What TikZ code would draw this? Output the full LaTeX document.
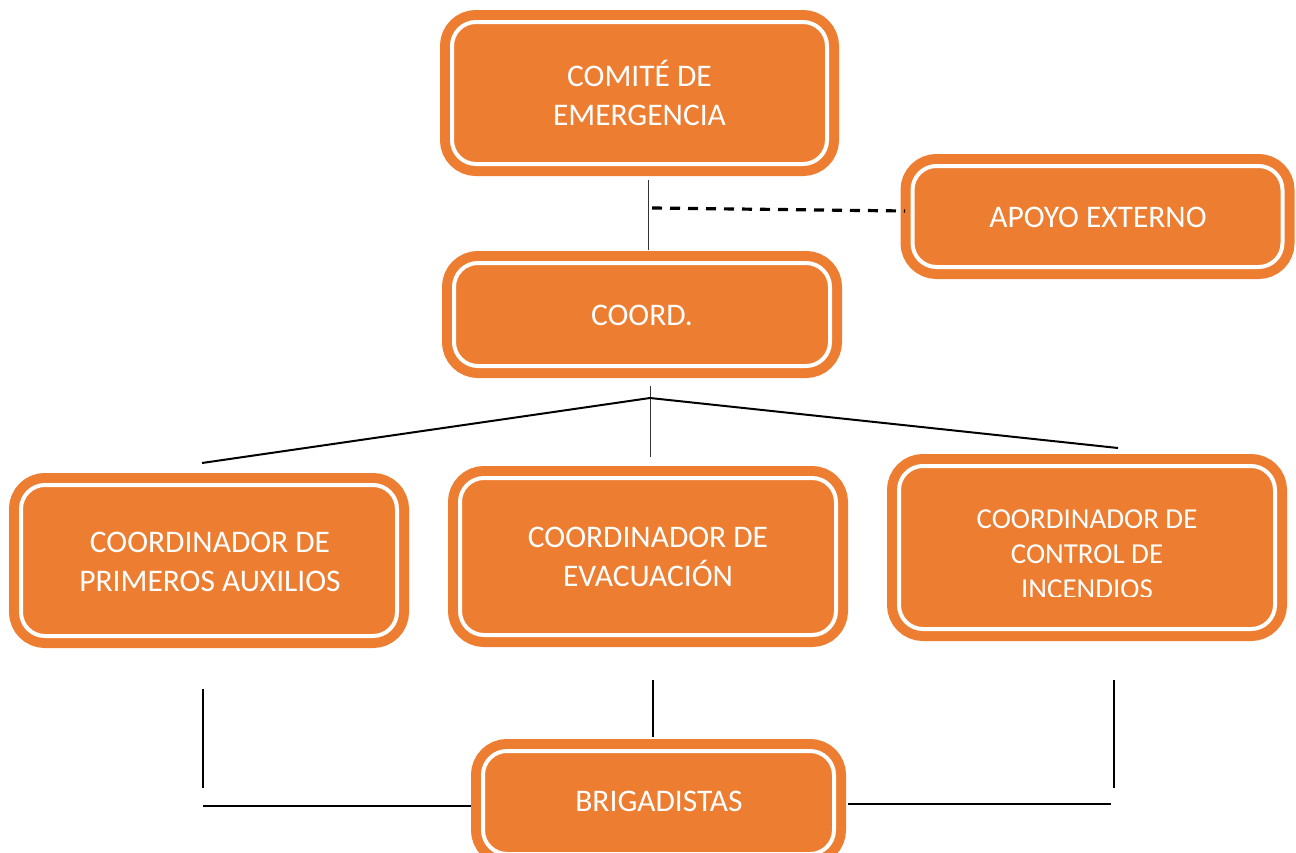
\documentclass[tikz,border=0pt]{standalone}
\usepackage{fontspec}
\setmainfont{Carlito}
\definecolor{acc}{HTML}{ED7D31}
\tikzset{
  orgbox/.style={rectangle, rounded corners=18pt, fill=acc, draw=acc,
    line width=7.5pt, double=white, double distance=3pt, inner sep=0pt},
  lbl/.style={text=white, align=center, inner sep=0pt,
    font=\fontsize{23.6pt}{28.9pt}\selectfont},
  lblsmall/.style={text=white, align=center, inner sep=0pt,
    font=\fontsize{21.7pt}{26.25pt}\selectfont},
  thinln/.style={draw=black!80, line width=0.75pt},
  ln/.style={draw=black, line width=1.5pt},
  dashln/.style={draw=black, line width=2.4pt, dash pattern=on 7.5pt off 6pt}
}
\begin{document}
\begin{tikzpicture}[x=0.75pt, y=-0.75pt]
\clip (0,0) rectangle (1296,853);
\fill[white] (0,0) rectangle (1296,853);

% boxes
\node[orgbox, minimum width=281.25pt, minimum height=106.5pt] (comite) at (639.5,93) {};
\node[orgbox, minimum width=277.5pt, minimum height=75.75pt] (apoyo) at (1097.5,216.5) {};
\node[orgbox, minimum width=282pt, minimum height=77.25pt] (coord) at (642,314.5) {};
\node[orgbox, minimum width=282pt, minimum height=113.25pt] (primeros) at (209,560.5) {};
\node[orgbox, minimum width=282pt, minimum height=117.75pt] (evac) at (648,556.5) {};
\node[orgbox, minimum width=282pt, minimum height=122.25pt] (incend) at (1087,547.5) {};
\node[orgbox, minimum width=263.25pt, minimum height=77.25pt] (brig) at (658.5,802.5) {};

% texts
\node[lbl] (comiteT) at (639.5,93) {COMITÉ DE\\EMERGENCIA};
\node[lbl] (apoyoT) at (1098,217) {APOYO EXTERNO};
\node[lbl] (coordT) at (642,315) {COORD.};
\node[lbl] (primerosT) at (210,562) {COORDINADOR DE\\PRIMEROS AUXILIOS};
\node[lbl] (evacT) at (648,557) {COORDINADOR DE\\EVACUACIÓN};
\begin{scope}
\clip (887,454) rectangle (1287,596);
\node[lblsmall] (incendT) at (1087,554) {COORDINADOR DE\\CONTROL DE\\INCENDIOS};
\end{scope}
\node[lbl] (brigT) at (659,801) {BRIGADISTAS};

% connector end points
\coordinate (c1a) at (648,180);
\coordinate (c1b) at (648,250);
\coordinate (d1a) at (652,208);
\coordinate (d1b) at (905,211);
\coordinate (c2a) at (650,386);
\coordinate (c2b) at (650,457);
\coordinate (apex) at (650,398);
\coordinate (fl) at (202,463);
\coordinate (fr) at (1118,448);
\coordinate (vl1) at (203,689);
\coordinate (vl2) at (203,788);
\coordinate (hl1) at (203,806);
\coordinate (hl2) at (471,806);
\coordinate (vm1) at (653,680);
\coordinate (vm2) at (653,737);
\coordinate (hr1) at (848,804);
\coordinate (hr2) at (1111,804);
\coordinate (vr1) at (1114,680);
\coordinate (vr2) at (1114,788);

% connectors
\draw[thinln] (c1a) -- (c1b);
\draw[dashln] (d1a) -- (d1b);
\draw[thinln] (c2a) -- (c2b);
\draw[ln] (fl) -- (apex) -- (fr);
\draw[ln] (vl1) -- (vl2);
\draw[ln] (hl1) -- (hl2);
\draw[ln] (vm1) -- (vm2);
\draw[ln] (hr1) -- (hr2);
\draw[ln] (vr1) -- (vr2);
\end{tikzpicture}
\end{document}
